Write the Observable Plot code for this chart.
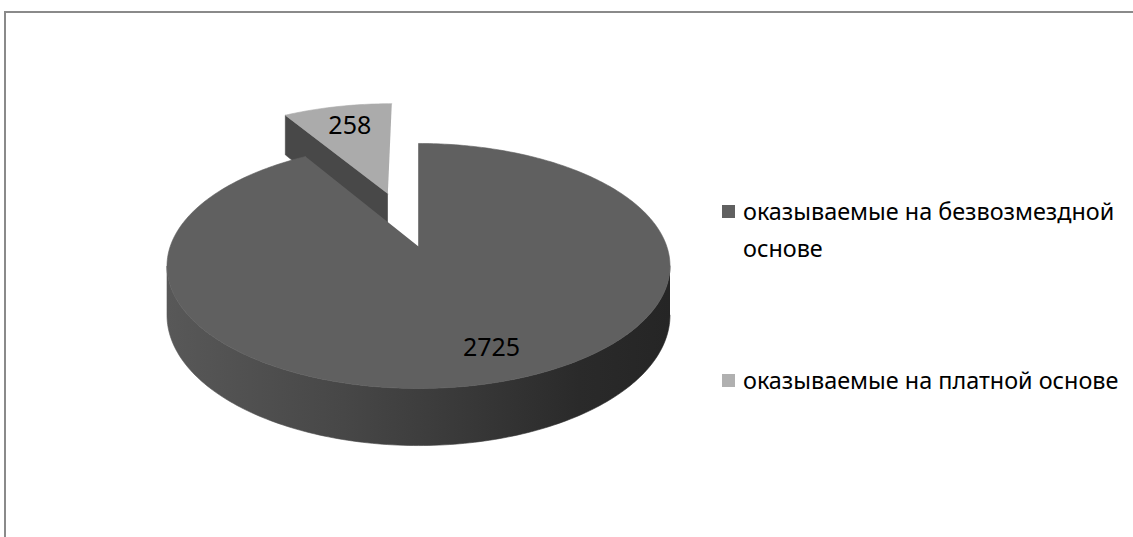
<!DOCTYPE html>
<html>
<head>
<meta charset="utf-8">
<script src="https://cdn.jsdelivr.net/npm/d3@7"></script>
<script src="https://cdn.jsdelivr.net/npm/@observablehq/plot@0.6"></script>
<style>
  html, body { margin: 0; padding: 0; background: #fff; overflow: hidden; }
  #wrap { position: relative; width: 1133px; height: 537px; overflow: hidden; font-family: "Noto Sans", sans-serif; }
  #lineTop { position: absolute; left: 4px; top: 11px; width: 1129px; height: 2px; background: #8a8a8a; }
  #lineLeft { position: absolute; left: 4px; top: 11px; width: 2px; height: 526px; background: #8a8a8a; }
  #chart { position: absolute; left: 0; top: 0; }
  #legend { position: absolute; left: 722px; top: 0; width: 405px; color: #000; font-size: 23.4px; line-height: 37px; }
  .item { position: absolute; left: 0; padding-left: 21px; width: 384px; white-space: normal; }
  .sw { position: absolute; left: 0; width: 13px; height: 13px; }
</style>
</head>
<body>
<div id="wrap">
  <div id="lineTop"></div>
  <div id="lineLeft"></div>
  <div id="chart"></div>
  <div id="legend"></div>
</div>
<script>
// ---- data ----
const categories = ["оказываемые на безвозмездной основе", "оказываемые на платной основе"];
const values = [2725, 258];

// ---- styling / layout ----
const topColors = ["#606060", "#ababab"];
const cutColors = ["#4a4a4a", "#484848"];
const explode = [0, 0.495];     // slice explosion (in radius units)
const labelR = [0.78, 0.75];
const labelDx = [14, 1];
const k = 0.159;                // perspective factor
const H = 0.402;                // pie thickness (y units)

const proj = (u, v, z) => ({x: u / (1 - k * v), y: (v + z * H) / (1 - k * v)});

const arcs = d3.pie().sort(null)(values);
const slices = arcs.map((a, i) => {
  const mid = (a.startAngle + a.endAngle) / 2;
  return {...a, i, mid, ou: explode[i] * Math.sin(mid), ov: -explode[i] * Math.cos(mid)};
});
const pt = (s, a, r, z) => proj(s.ou + r * Math.sin(a), s.ov - r * Math.cos(a), z);
function arcPts(s, a0, a1, z) {
  const n = Math.max(8, Math.ceil((a1 - a0) / (Math.PI / 180)));
  const out = [];
  for (let j = 0; j <= n; j++) out.push(pt(s, a0 + (a1 - a0) * j / n, 1, z));
  return out;
}

const visA0 = Math.acos(-k), visA1 = 2 * Math.PI - Math.acos(-k);
const polys = [];
// painter's order: back slices first
const order = slices.slice().sort((a, b) => a.ov - b.ov);
for (const s of order) {
  const edges = [[s.startAngle, -Math.sin(s.startAngle)], [s.endAngle, Math.sin(s.endAngle)]];
  for (const [a, vis] of edges) {
    if (vis > 1e-6) {
      polys.push({fill: cutColors[s.i], pts: [pt(s, a, 0, 0), pt(s, a, 1, 0), pt(s, a, 1, 1), pt(s, a, 0, 1)]});
    }
  }
  const a0 = Math.max(s.startAngle, visA0), a1 = Math.min(s.endAngle, visA1);
  if (a1 > a0) {
    polys.push({fill: "url(#sideGrad)", pts: [...arcPts(s, a0, a1, 0), ...arcPts(s, a0, a1, 1).reverse()]});
  }
  polys.push({fill: topColors[s.i], pts: [pt(s, 0, 0, 0), ...arcPts(s, s.startAngle, s.endAngle, 0)]});
}

const labelData = slices.map(s => {
  const p = pt(s, s.mid, labelR[s.i], 0);
  return {x: p.x, y: p.y, text: String(values[s.i]), dx: labelDx[s.i]};
});

const cx = 418, cy = 246, rx = 248.3, ry = 119.4;
const chart = Plot.plot({
  width: 1133,
  height: 537,
  margin: 0,
  x: {domain: [-1, 1], range: [cx - rx, cx + rx], axis: null},
  y: {domain: [-1, 1], range: [cy - ry, cy + ry], axis: null},
  style: {background: "transparent"},
  marks: [
    ...polys.map(p => Plot.line(p.pts, {x: "x", y: "y", fill: p.fill, stroke: p.fill, strokeWidth: 0.6, curve: "linear"})),
    ...labelData.map(d => Plot.text([d], {x: "x", y: "y", text: "text", dx: d.dx, fontSize: 25, fill: "#000", fontFamily: "Noto Sans, sans-serif"}))
  ]
});

const ns = "http://www.w3.org/2000/svg";
const defs = document.createElementNS(ns, "defs");
defs.innerHTML = `<linearGradient id="sideGrad" x1="0" y1="0" x2="1" y2="0">
  <stop offset="0" stop-color="#585858"/>
  <stop offset="0.35" stop-color="#474747"/>
  <stop offset="0.6" stop-color="#383838"/>
  <stop offset="0.82" stop-color="#2a2a2a"/>
  <stop offset="1" stop-color="#252525"/>
</linearGradient>`;
chart.insertBefore(defs, chart.firstChild);
document.getElementById("chart").appendChild(chart);

// legend
const legendColors = ["#606060", "#b0b0b0"];
const legendTop = [193, 362];
const legend = document.getElementById("legend");
categories.forEach((c, i) => {
  const item = document.createElement("div");
  item.className = "item";
  item.style.top = legendTop[i] + "px";
  const sw = document.createElement("span");
  sw.className = "sw";
  sw.style.background = legendColors[i];
  sw.style.top = "12px";
  item.appendChild(sw);
  item.appendChild(document.createTextNode(c));
  legend.appendChild(item);
});
</script>
</body>
</html>
